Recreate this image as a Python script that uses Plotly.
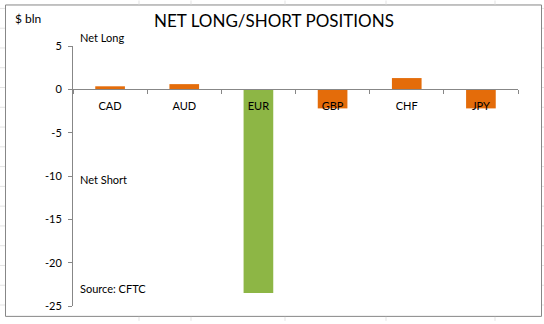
import plotly.graph_objects as go

categories = ["CAD", "AUD", "EUR", "GBP", "CHF", "JPY"]
positions = [0.35, 0.6, -23.5, -2.2, 1.3, -2.2]
bar_colors = ["#E46C0A", "#E46C0A", "#8DB645", "#E46C0A", "#E46C0A", "#E46C0A"]
y_ticks = [5, 0, -5, -10, -15, -20, -25]
y_tick_labels = ["5", "0", "-5", "-10", "-15", "-20", "-25"]

W, H = 544, 324
L, R, T, B = 73, 518, 46, 309  # plot area in pixels


def px(x):
    return (x - L) / (R - L)


def py(y):
    return (B - y) / (B - T)


font = "Lato, 'Open Sans', sans-serif"

fig = go.Figure()
fig.add_trace(go.Bar(
    x=categories, y=positions,
    marker=dict(color=bar_colors, line=dict(width=0)),
    width=0.4,
    hoverinfo="skip",
))

shapes = [
    dict(type="rect", xref="paper", yref="paper",
         x0=px(5.5), x1=px(541.5), y0=py(319.5), y1=py(4.5),
         line=dict(color="#878787", width=1), layer="below"),
]
# faint spreadsheet grid outside the chart box
for gx in [139, 191, 285, 386, 495]:
    shapes.append(dict(type="line", xref="paper", yref="paper",
                       x0=px(gx), x1=px(gx), y0=py(0), y1=py(4),
                       line=dict(color="#E3E3E3", width=1)))
    shapes.append(dict(type="line", xref="paper", yref="paper",
                       x0=px(gx), x1=px(gx), y0=py(320), y1=py(324),
                       line=dict(color="#E3E3E3", width=1)))
for gy in range(8, 324, 20):
    shapes.append(dict(type="line", xref="paper", yref="paper",
                       x0=px(0), x1=px(5), y0=py(gy), y1=py(gy),
                       line=dict(color="#E3E3E3", width=1)))
    shapes.append(dict(type="line", xref="paper", yref="paper",
                       x0=px(542), x1=px(544), y0=py(gy), y1=py(gy),
                       line=dict(color="#E3E3E3", width=1)))

annotations = [
    dict(text="NET LONG/SHORT POSITIONS", x=px(274), y=py(20), xref="paper", yref="paper",
         showarrow=False, xanchor="center", yanchor="middle",
         font=dict(family=font, size=17, color="#000000")),
    dict(text="$ bln", x=px(13), y=py(18), xref="paper", yref="paper",
         showarrow=False, xanchor="left", yanchor="middle",
         font=dict(family=font, size=12, color="#000000")),
    dict(text="Net Long", x=px(78), y=py(37), xref="paper", yref="paper",
         showarrow=False, xanchor="left", yanchor="middle",
         font=dict(family=font, size=11, color="#000000")),
    dict(text="Net Short", x=px(78), y=py(181), xref="paper", yref="paper",
         showarrow=False, xanchor="left", yanchor="middle",
         font=dict(family=font, size=11, color="#000000")),
    dict(text="Source: CFTC", x=px(78), y=py(291), xref="paper", yref="paper",
         showarrow=False, xanchor="left", yanchor="middle",
         font=dict(family=font, size=11, color="#000000")),
]

fig.update_layout(
    width=W, height=H,
    margin=dict(l=L, r=W - R, t=T, b=H - B, pad=0),
    paper_bgcolor="white", plot_bgcolor="rgba(0,0,0,0)",
    showlegend=False,
    shapes=shapes,
    annotations=annotations,
    xaxis=dict(
        type="category", anchor="free", position=25 / 30,
        showline=True, linecolor="#878787", linewidth=1,
        ticks="outside", tickson="boundaries", ticklen=4, tickcolor="#878787",
        showgrid=False, zeroline=False,
        tickfont=dict(family=font, size=11, color="#000000"),
        ticklabelstandoff=6,
        range=[-0.5, 5.5], fixedrange=True,
    ),
    yaxis=dict(
        range=[-25, 5], tickvals=y_ticks, ticktext=y_tick_labels,
        showline=True, linecolor="#878787", linewidth=1,
        ticks="outside", ticklen=4, tickcolor="#878787",
        showgrid=False, zeroline=False,
        tickfont=dict(family=font, size=11, color="#000000"),
        ticklabelstandoff=4,
        fixedrange=True,
    ),
)

fig.write_html("out.html", config={"displayModeBar": False})
